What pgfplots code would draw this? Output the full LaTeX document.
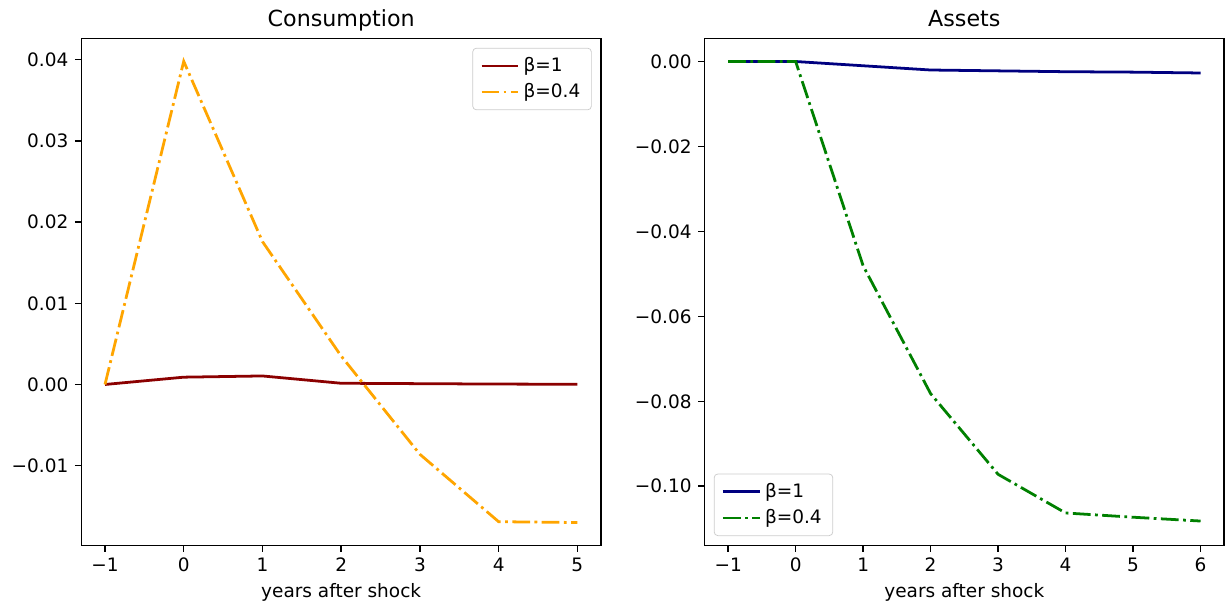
\documentclass[border=0pt]{standalone}
\usepackage{fontspec}
\setmainfont{DejaVu Sans}
\usepackage{pgfplots}
\pgfplotsset{compat=1.18}

\definecolor{cdark}{HTML}{8B0000}
\definecolor{corange}{HTML}{FFA500}
\definecolor{cnavy}{HTML}{000080}
\definecolor{cgreen}{HTML}{008000}

\pgfplotsset{
  mplstyle/.style={
    scale only axis,
    width=281pt, height=274pt,
    axis line style={line width=0.8pt},
    tick style={line width=0.8pt, black},
    tick align=outside,
    major tick length=3.5pt,
    xtick pos=bottom, ytick pos=left,
    scaled y ticks=false, scaled x ticks=false,
    tick label style={font=\fontsize{10}{12}\selectfont},
    label style={font=\fontsize{10}{12}\selectfont},
    title style={font=\fontsize{12}{14}\selectfont, text height=9pt, text depth=3pt, yshift=-6pt},
    xlabel={years after shock},
    xlabel style={yshift=1pt},
    legend cell align=left,
    legend style={font=\fontsize{10}{12}\selectfont, draw=black!20, rounded corners=2pt,
      fill=white, fill opacity=0.8, text opacity=1, inner xsep=4pt, inner ysep=3pt,
      row sep=1pt},
    legend image code/.code={\draw[#1] (0pt,0pt) -- (20pt,0pt);},
    /pgf/number format/assume math mode=true,
  },
  dashdot/.style={line width=1.5pt, dash pattern=on 9.6pt off 2.4pt on 1.5pt off 2.4pt},
}

\begin{document}
\begin{tikzpicture}
\begin{axis}[
  mplstyle,
  name=A,
  title={Consumption},
  xmin=-1.3, xmax=5.3,
  ymin=-0.0198, ymax=0.0426,
  xtick={-1,0,1,2,3,4,5},
  xticklabels={−1,0,1,2,3,4,5},
  ytick={-0.01,0,0.01,0.02,0.03,0.04},
  yticklabels={−0.01,0.00,0.01,0.02,0.03,0.04},
  legend style={at={(1,1)}, anchor=north east, xshift=-5pt, yshift=-5pt},
]
\addplot[cdark, line width=1.5pt] coordinates {
  (-1,0) (0,0.0009) (1,0.00105) (2,0.00015) (3,0.0001) (4,0.00005) (5,0.00003)
};
\addlegendentry{β=1}
\addplot[corange, dashdot] coordinates {
  (-1,0) (0,0.0398) (1,0.0176) (2,0.0035) (3,-0.0086) (4,-0.0169) (5,-0.0170)
};
\addlegendentry{β=0.4}
\end{axis}

\begin{axis}[
  mplstyle,
  name=B,
  at={(337pt,0pt)},
  title={Assets},
  xmin=-1.35, xmax=6.35,
  ymin=-0.1139, ymax=0.0054,
  xtick={-1,0,1,2,3,4,5,6},
  xticklabels={−1,0,1,2,3,4,5,6},
  ytick={-0.10,-0.08,-0.06,-0.04,-0.02,0},
  yticklabels={−0.10,−0.08,−0.06,−0.04,−0.02,0.00},
  legend style={at={(0,0)}, anchor=south west, xshift=5pt, yshift=5pt},
]
\addplot[cnavy, line width=1.5pt] coordinates {
  (-1,0) (0,0) (1,-0.001) (2,-0.002) (3,-0.0022) (4,-0.0024) (5,-0.0025) (6,-0.0027)
};
\addlegendentry{β=1}
\addplot[cgreen, dashdot] coordinates {
  (-1,0) (0,0) (1,-0.0481) (2,-0.0782) (3,-0.0972) (4,-0.1063) (5,-0.1073) (6,-0.1082)
};
\addlegendentry{β=0.4}
\end{axis}
\pgfresetboundingbox
\path[use as bounding box] ([xshift=-3pt,yshift=-1pt]A.outer south west) rectangle ([xshift=1pt,yshift=2pt]B.outer north east -| B.south east);
\end{tikzpicture}
\end{document}
